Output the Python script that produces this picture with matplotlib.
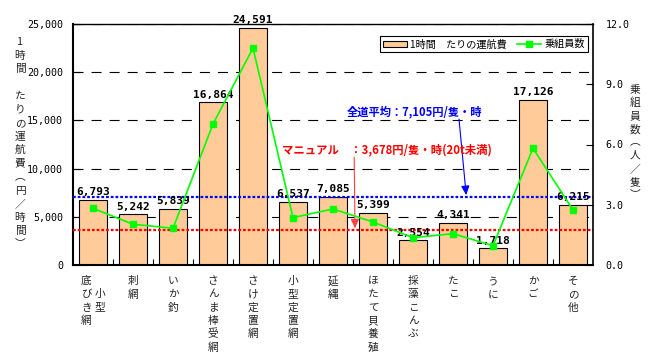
import numpy as np
import matplotlib as mpl
mpl.use('Agg')
import matplotlib.pyplot as plt
import matplotlib.transforms as mtrans
from matplotlib.lines import Line2D
from matplotlib.patches import Patch

jp = 'Noto Sans CJK JP'
mono = 'DejaVu Sans Mono'
mpl.rcParams['font.family'] = [jp, 'DejaVu Sans']
mpl.rcParams['lines.scale_dashes'] = False

# 漁業種類別 1時間あたりの運航費と乗組員数
gyoshu = ['底びき網', '刺網', 'いか釣', 'さんま棒受網', 'さけ定置網', '小型定置網', '延縄',
          'ほたて貝養殖', '採藻こんぶ', 'たこ', 'うに', 'かご', 'その他']
gyoshu_mae = {0: '小型'}   # 2列目(右側)に書く語
unkohi = [6793, 5242, 5839, 16864, 24591, 6537, 7085, 5399, 2554, 4341, 1718, 17126, 6215]
jouin = [2.82, 2.03, 1.83, 7.02, 10.8, 2.36, 2.79, 2.14, 1.36, 1.56, 0.96, 5.81, 2.74]
zendo_avg = 7105
manual = 3678
yticks_l = [0, 5000, 10000, 15000, 20000, 25000]
yticks_r = [0.0, 3.0, 6.0, 9.0, 12.0]

txt_avg = '全道平均：7,105円/隻・時'
txt_manual = 'マニュアル　：3,678円/隻・時(20t未満)'
ylab_l = '1時間　たりの運航費︵円／時間︶'
ylab_r = '乗組員数︵人／隻︶'
leg_labels = ['1時間　たりの運航費', '乗組員数']

W, H = 648, 352
fig = plt.figure(figsize=(W / 100, H / 100), dpi=100)
ax = fig.add_axes([73 / W, 1 - 265 / H, 520 / W, 241 / H])
ax2 = ax.twinx()

x = np.arange(len(gyoshu))
ax.bar(x, unkohi, width=0.68, color='#FFCC99', edgecolor='black', lw=0.8, zorder=2)
ax.set_xlim(-0.5, len(gyoshu) - 0.5)
ax.set_ylim(0, 25000)
ax.set_yticks(yticks_l)
ax.set_yticklabels(['{:,}'.format(v) for v in yticks_l], family=mono, fontsize=7.2)
ax.set_axisbelow(True)
ax.grid(axis='y', color='black', lw=0.8, ls=(0, (7.2, 5.8)))
ax.set_xticks(np.arange(0.5, len(gyoshu) - 0.5, 1))
ax.set_xticklabels([])
ax.tick_params(axis='x', direction='in', length=4, width=0.8)
ax.tick_params(axis='y', direction='in', length=5, width=0.8, pad=7)

# 平均線
ax.axhline(zendo_avg, color='#0000FF', lw=1.6, ls=(0, (2, 1.4)), zorder=3)
ax.axhline(manual, color='#FF0000', lw=1.6, ls=(0, (2, 1.4)), zorder=3)

# 値ラベル
for i, v in enumerate(unkohi):
    ax.annotate('{:,}'.format(v), (i, v), xytext=(0, 2), textcoords='offset points',
                ha='center', va='bottom', family=mono, fontweight='bold', fontsize=8, zorder=4)

# 注記
ax.text(6.35, 15871, txt_avg, color='#0000FF', fontsize=8.1, fontweight='bold',
        ha='left', va='center', zorder=5)
ax.annotate('', xy=(9.33, 7250), xytext=(9.15, 15145),
            arrowprops=dict(arrowstyle='-|>,head_length=0.55,head_width=0.25',
                            color='#0000FF', lw=0.8, shrinkA=0, shrinkB=0), zorder=5)
ax.text(4.72, 11929, txt_manual, color='#FF0000', fontsize=8.2, fontweight='bold',
        ha='left', va='center', zorder=5)
ax.annotate('', xy=(6.55, 3800), xytext=(6.53, 11203),
            arrowprops=dict(arrowstyle='-|>,head_length=0.55,head_width=0.25',
                            color='#FF4040', lw=0.8, shrinkA=0, shrinkB=0), zorder=5)

# 乗組員数
ax2.plot(x, jouin, color='#00FF00', lw=1.2, marker='s', ms=5, zorder=6)
ax2.set_ylim(0, 12)
ax2.set_yticks(yticks_r)
ax2.set_yticklabels(['{:.1f}'.format(v) for v in yticks_r], family=mono, fontsize=7.2)
ax2.tick_params(axis='y', direction='in', length=5, width=0.8, pad=9)

for s in ['left', 'bottom']:
    ax.spines[s].set_linewidth(1.5)
ax.spines['top'].set_linewidth(1.0)
ax.spines['right'].set_visible(False)
for s in ['left', 'bottom', 'top']:
    ax2.spines[s].set_visible(False)
ax2.spines['right'].set_linewidth(1.2)

handles = [Patch(facecolor='#FFCC99', edgecolor='black', lw=0.8),
           Line2D([], [], color='#00FF00', lw=1.2, marker='s', ms=5)]
leg = ax2.legend(handles, leg_labels, ncol=2, loc='upper right', bbox_to_anchor=(0.99, 0.95),
                 borderaxespad=0, fancybox=False, edgecolor='black', framealpha=1,
                 fontsize=7.3, handlelength=2.4, handleheight=0.5, columnspacing=1.0,
                 handletextpad=0.3, borderpad=0.3)
leg.get_frame().set_linewidth(0.8)


# 縦書き用
def tate(xx, yy, s, dy, trans, **kw):
    for k, ch in enumerate(s):
        if ch == '　':
            continue
        fig.text(xx, yy - k * dy, ch, transform=trans, ha='center', va='center', **kw)


bt = mtrans.blended_transform_factory(ax.transData, fig.transFigure)
y0 = 1 - 281 / H
dy = 13.3 / H
for i, name in enumerate(gyoshu):
    if i in gyoshu_mae:
        tate(i - 0.17, y0, name, dy, bt, fontsize=7.7, color='#222222')
        tate(i + 0.18, y0 - dy, gyoshu_mae[i], dy, bt, fontsize=7.7, color='#222222')
    else:
        tate(i, y0, name, dy, bt, fontsize=7.7, color='#222222')

tate(20 / W, 1 - 42 / H, ylab_l, 13.5 / H, fig.transFigure, fontsize=7.7, color='#222222')
tate(635 / W, 1 - 90 / H, ylab_r, 13.1 / H, fig.transFigure, fontsize=7.7, color='#222222')

fig.savefig('out.png', dpi=100)
